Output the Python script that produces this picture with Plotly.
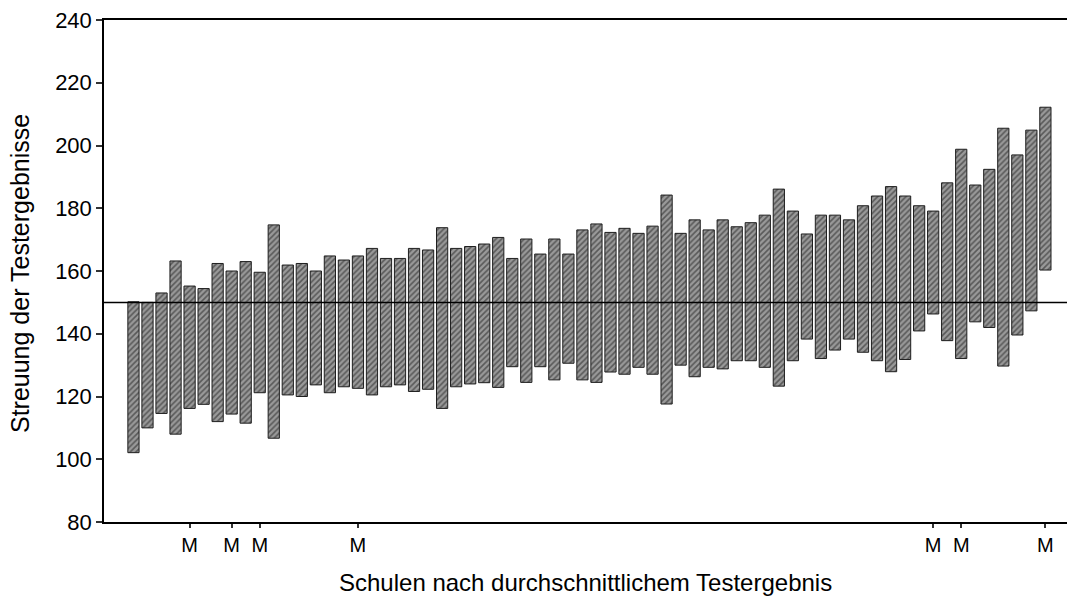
import plotly.graph_objects as go

# Schulen 1..66, sortiert nach durchschnittlichem Testergebnis
schulen = list(range(1, 67))

oben = [
    150.2, 150.0, 153.0, 163.2, 155.2, 154.4, 162.4, 160.0, 163.0, 159.6,
    174.7, 161.9, 162.4, 160.0, 164.8, 163.5, 164.8, 167.2, 164.0, 164.0,
    167.2, 166.7, 173.8, 167.2, 167.8, 168.6, 170.7, 164.0, 170.2, 165.4,
    170.2, 165.4, 173.1, 175.0, 172.3, 173.6, 172.0, 174.3, 184.2, 172.0,
    176.3, 173.1, 176.3, 174.1, 175.4, 177.8, 186.1, 179.1, 171.8, 177.8,
    177.8, 176.3, 180.8, 183.9, 186.9, 183.9, 180.8, 179.1, 188.1, 198.8,
    187.4, 192.4, 205.5, 197.0, 204.9, 212.2,
]
unten = [
    102.1, 110.0, 114.6, 108.0, 116.2, 117.5, 112.0, 114.4, 111.5, 121.2,
    106.7, 120.5, 120.0, 123.7, 121.2, 123.1, 122.6, 120.5, 123.1, 123.7,
    121.6, 122.3, 116.2, 123.1, 124.0, 124.4, 122.9, 129.5, 124.5, 129.5,
    125.3, 130.6, 125.3, 124.5, 127.8, 127.1, 129.3, 127.1, 117.6, 130.0,
    126.3, 129.3, 128.8, 131.4, 131.4, 129.3, 123.3, 131.4, 138.3, 132.1,
    134.8, 138.3, 134.1, 131.4, 127.9, 131.8, 140.9, 146.3, 137.8, 132.1,
    143.8, 142.0, 129.7, 139.6, 147.3, 160.3,
]

# Schulen mit Markierung "M" unter der Achse
m_schulen = [5, 8, 10, 17, 58, 60, 66]
m_text = ["M"] * len(m_schulen)

y_ticks = [80, 100, 120, 140, 160, 180, 200, 220, 240]
referenz = 150

font_name = "Liberation Sans, Arial, sans-serif"

fig = go.Figure()

fig.add_trace(go.Bar(
    x=schulen,
    y=[o - u for o, u in zip(oben, unten)],
    base=unten,
    width=0.8,
    marker=dict(
        color="#888888",
        line=dict(color="#1e1e1e", width=1),
        pattern=dict(shape="/", fgcolor="#1a1a1a", bgcolor="#999999",
                     size=4, solidity=0.4),
    ),
    hovertemplate="Schule %{x}<br>%{base:.0f} – %{y:.0f}<extra></extra>",
))

# Referenzlinie bei 150
fig.add_shape(type="line", xref="paper", x0=0, x1=1, y0=referenz, y1=referenz,
              line=dict(color="black", width=1.5))

fig.update_layout(
    width=1067,
    height=609,
    showlegend=False,
    plot_bgcolor="white",
    paper_bgcolor="white",
    margin=dict(l=104, r=0, t=20, b=87),
    font=dict(family=font_name, color="black"),
    xaxis=dict(
        range=[-1.10, 67.54],
        automargin=False,
        tickmode="array",
        tickvals=m_schulen,
        ticktext=m_text,
        ticks="outside",
        ticklen=4,
        tickwidth=2,
        tickcolor="#333333",
        tickfont=dict(size=20),
        showgrid=False,
        zeroline=False,
        showline=True,
        linecolor="black",
        linewidth=1.5,
        mirror=True,
    ),
    yaxis=dict(
        range=[80, 240],
        automargin=False,
        tickmode="array",
        tickvals=y_ticks,
        ticks="outside",
        ticklen=6,
        tickwidth=2,
        tickcolor="#333333",
        tickfont=dict(size=22),
        showgrid=False,
        zeroline=False,
        showline=True,
        linecolor="black",
        linewidth=1.5,
    ),
    annotations=[
        dict(text="Streuung der Testergebnisse", xref="paper", yref="paper",
             x=-0.0872, y=0.494, textangle=-90, showarrow=False,
             xanchor="center", yanchor="middle", font=dict(size=25)),
        dict(text="Schulen nach durchschnittlichem Testergebnis",
             xref="paper", yref="paper", x=0.5005, y=-0.1215,
             showarrow=False, xanchor="center", yanchor="middle",
             font=dict(size=24)),
    ],
)

# Body-Rand der Seite entfernen, damit die Figur bei (0,0) beginnt
fig.write_html(
    "out.html",
    config={"displayModeBar": False},
    post_script="document.body.style.margin='0';document.body.style.overflow='hidden';",
)
